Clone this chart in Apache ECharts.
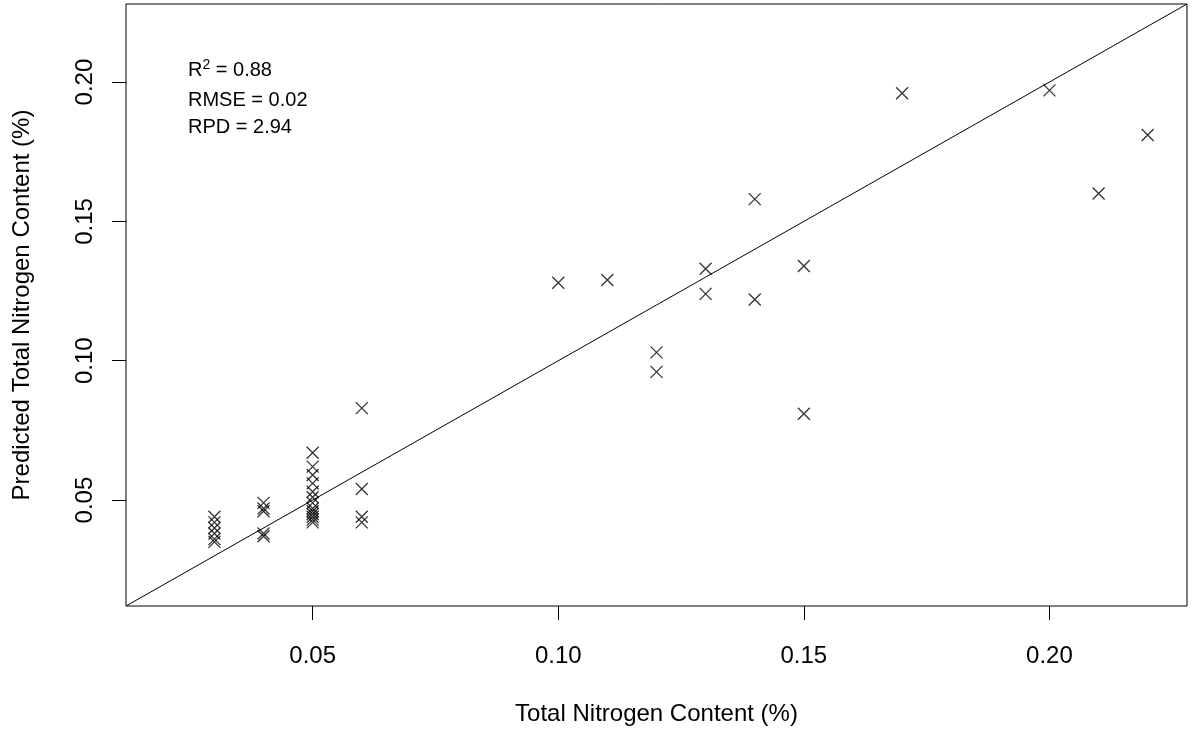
<!DOCTYPE html>
<html>
<head>
<meta charset="utf-8">
<title>Predicted vs measured total nitrogen</title>
<script src="https://cdn.jsdelivr.net/npm/echarts@6.0.0/dist/echarts.min.js"></script>
<style>
  html, body { margin: 0; padding: 0; background: #fff; }
  #chart { width: 1193px; height: 736px; }
</style>
</head>
<body>
<div id="chart"></div>
<script>
// Measured total nitrogen (%) for each sample
const measured = [
  0.03, 0.03, 0.03, 0.03, 0.03, 0.03,
  0.04, 0.04, 0.04, 0.04, 0.04,
  0.05, 0.05, 0.05, 0.05, 0.05, 0.05, 0.05, 0.05, 0.05, 0.05, 0.05, 0.05, 0.05,
  0.06, 0.06, 0.06, 0.06,
  0.10, 0.11, 0.12, 0.12, 0.13, 0.13, 0.14, 0.14, 0.15, 0.15,
  0.17, 0.20, 0.21, 0.22
];

// Model-predicted total nitrogen (%) for the same samples
const predicted = [
  0.044, 0.042, 0.040, 0.038, 0.036, 0.035,
  0.049, 0.047, 0.046, 0.038, 0.037,
  0.067, 0.062, 0.059, 0.056, 0.053, 0.051, 0.049, 0.047, 0.046, 0.045, 0.044, 0.043, 0.042,
  0.083, 0.054, 0.044, 0.042,
  0.128, 0.129, 0.103, 0.096, 0.133, 0.124, 0.158, 0.122, 0.134, 0.081,
  0.196, 0.197, 0.160, 0.181
];

// Shared axis limits for both axes and their tick values
const axisLimits = [0.012, 0.228];
const tickValues = [0.05, 0.10, 0.15, 0.20];

// Fit statistics shown in the top-left corner
const statLines = ['R{sup|2} = 0.88', 'RMSE = 0.02', 'RPD = 2.94'];

const points = measured.map((m, i) => [m, predicted[i]]);
const oneToOne = [[axisLimits[0], axisLimits[0]], [axisLimits[1], axisLimits[1]]];

const FONT = '"Liberation Sans", Arial, sans-serif';
const chart = echarts.init(document.getElementById('chart'), null, { renderer: 'canvas' });

function axisCommon(rotate, margin) {
  return {
    type: 'value',
    min: axisLimits[0],
    max: axisLimits[1],
    axisLine: { show: false },
    splitLine: { show: false },
    axisTick: {
      show: true,
      inside: false,
      length: 14,
      customValues: tickValues,
      lineStyle: { color: '#000', width: 1 }
    },
    axisLabel: {
      show: true,
      customValues: tickValues,
      rotate: rotate,
      margin: margin,
      fontFamily: FONT,
      fontSize: 24,
      color: '#000',
      formatter: v => v.toFixed(2)
    },
    nameLocation: 'middle',
    nameTextStyle: { fontFamily: FONT, fontSize: 24, color: '#000' }
  };
}

const xAxis = Object.assign(axisCommon(0, 38), {
  name: 'Total Nitrogen Content (%)',
  nameGap: 96
});
const yAxis = Object.assign(axisCommon(90, 29), {
  name: 'Predicted Total Nitrogen Content (%)',
  nameGap: 92
});

chart.setOption({
  animation: false,
  backgroundColor: '#fff',
  grid: {
    left: 126,
    right: 6,
    top: 4,
    bottom: 130,
    show: true,
    borderColor: '#000',
    borderWidth: 1,
    backgroundColor: 'transparent'
  },
  xAxis: xAxis,
  yAxis: yAxis,
  graphic: statLines.map((t, i) => ({
    type: 'text',
    left: 188,
    top: [58, 90, 117][i],
    style: {
      text: t,
      fontFamily: FONT,
      fontSize: 20,
      fill: '#000',
      rich: {
        sup: { fontSize: 14, verticalAlign: 'top', padding: [0, 0, 10, 0], fontFamily: FONT, fill: '#000' }
      }
    }
  })),
  series: [
    {
      type: 'line',
      data: oneToOne,
      symbol: 'none',
      silent: true,
      lineStyle: { color: '#000', width: 1 }
    },
    {
      type: 'scatter',
      data: points,
      symbol: 'path://M0 0L10 10M10 0L0 10',
      symbolSize: 12,
      itemStyle: { color: 'transparent', borderColor: '#000', borderWidth: 1.3 }
    }
  ]
});
</script>
</body>
</html>
